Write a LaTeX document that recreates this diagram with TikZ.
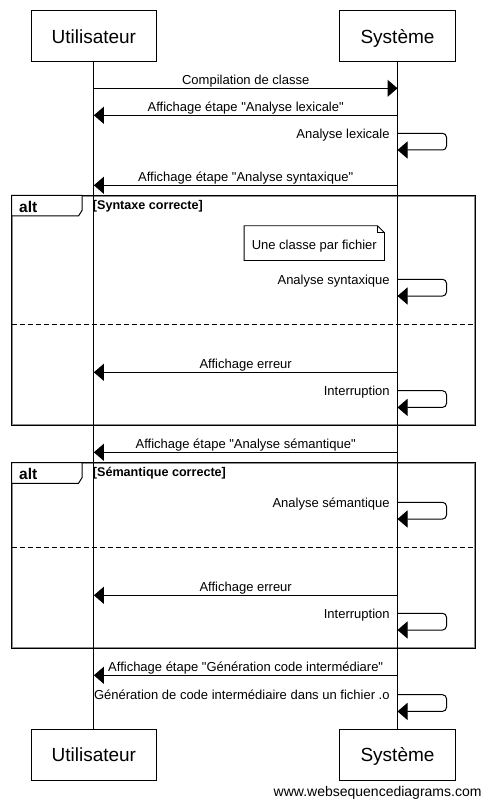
\documentclass[tikz,border=0pt]{standalone}
\usepackage{fontspec}
\setmainfont{Liberation Sans}[Ligatures=TeXOff]
\usetikzlibrary{arrows.meta}
\begin{document}
\begin{tikzpicture}[x=1pt,y=-1pt,
  actor/.style={draw,line width=1pt,minimum width=#1,minimum height=51pt,inner sep=0pt,
    text height=13.6pt,text depth=0pt,font=\fontsize{19}{22}\selectfont},
  life/.style={line width=1pt},
  msg/.style={line width=1pt,-{Triangle[length=10pt,width=17pt]}},
  selfmsg/.style={msg,rounded corners=4pt},
  lbl/.style={font=\fontsize{13}{15}\selectfont,inner sep=0pt},
  guardlbl/.style={font=\bfseries\fontsize{12.6}{14}\selectfont,inner sep=0pt,anchor=base west},
  altlbl/.style={font=\bfseries\fontsize{15.5}{18}\selectfont,inner sep=0pt,anchor=base west},
  frameout/.style={line width=1pt,black},
  framein/.style={line width=1pt,black!45},
  sep/.style={line width=1.5pt,dash pattern=on 5pt off 3pt},
  notebox/.style={line width=0.8pt}]
\useasboundingbox (0,0) rectangle (484,802);
\fill[white] (0,0) rectangle (484,802);

% actors
\node[actor=125.7pt] (uT) at (93.85,36.5) {Utilisateur};
\node[actor=116pt] (sT) at (397.5,36.5) {Système};
\node[actor=125.7pt] (uB) at (93.85,754.8) {Utilisateur};
\node[actor=116pt] (sB) at (397.5,754.8) {Système};
\draw[life] (uT) -- (uB);
\draw[life] (sT) -- (sB);

% frame 1
\draw[frameout] (11.7,195.5) rectangle (475,425.3);
\draw[framein] (12.7,196.5) rectangle (474,424.3);
\draw[frameout,fill=white] (11.7,195.5) -- (82,195.5) -- (82,210.5) -- (78.5,216) -- (11.7,216) -- cycle;
\node[altlbl] (alt1) at (19,212) {alt};
\node[guardlbl] (g1) at (92.7,209.5) {[Syntaxe correcte]};
\draw[sep] (11.7,324.3) -- (475,324.3);

% frame 2
\draw[frameout] (11.7,462.7) rectangle (475,648.7);
\draw[framein] (12.7,463.7) rectangle (474,647.7);
\draw[frameout,fill=white] (11.7,462.7) -- (82,462.7) -- (82,477.7) -- (78.5,483.3) -- (11.7,483.3) -- cycle;
\node[altlbl] (alt2) at (19,479.2) {alt};
\node[guardlbl] (g2) at (92.7,476.5) {[Sémantique correcte]};
\draw[sep] (11.7,547.3) -- (475,547.3);

% re-draw lifelines over frames
\draw[life] (uT) -- (uB);
\draw[life] (sT) -- (sB);

% messages
\coordinate (m1u) at (uT.south |- 0,88.3);
\coordinate (m1s) at (sT.south |- 0,88.3);
\draw[msg] (m1u) -- node[lbl,anchor=base,yshift=4pt] {Compilation de classe} (m1s);

\coordinate (m2u) at (uT.south |- 0,115.3);
\coordinate (m2s) at (sT.south |- 0,115.3);
\draw[msg] (m2s) -- node[lbl,anchor=base,yshift=4pt] {Affichage étape "Analyse lexicale"} (m2u);

\coordinate (s1a) at (sT.south |- 0,133.3);
\coordinate (s1b) at (sT.south |- 0,150);
\draw[selfmsg] (s1a) -- ++(49,0) -- ++(0,16.7) -- (s1b);
\node[lbl,anchor=base east] (t1) at ([xshift=-7.7pt,yshift=-5pt]s1a) {Analyse lexicale};

\coordinate (m3u) at (uT.south |- 0,185.3);
\coordinate (m3s) at (sT.south |- 0,185.3);
\draw[msg] (m3s) -- node[lbl,anchor=base,yshift=4pt] {Affichage étape "Analyse syntaxique"} (m3u);

% note
\node[minimum width=140pt,minimum height=34.3pt,inner sep=0pt] (note) at (314.3,243.15) {};
\draw[notebox,fill=white] (note.north west) -- ([xshift=-7pt]note.north east) -- ([yshift=-7pt]note.north east) -- (note.south east) -- (note.south west) -- cycle;
\draw[notebox] ([xshift=-7pt]note.north east) -- ([xshift=-7pt,yshift=-7pt]note.north east) -- ([yshift=-7pt]note.north east);
\node[lbl,anchor=base] (notetxt) at (314.3,249) {Une classe par fichier};

\coordinate (s2a) at (sT.south |- 0,279.3);
\coordinate (s2b) at (sT.south |- 0,296);
\draw[selfmsg] (s2a) -- ++(49,0) -- ++(0,16.7) -- (s2b);
\node[lbl,anchor=base east] (t2) at ([xshift=-7.7pt,yshift=-5pt]s2a) {Analyse syntaxique};

\coordinate (m4u) at (uT.south |- 0,372.3);
\coordinate (m4s) at (sT.south |- 0,372.3);
\draw[msg] (m4s) -- node[lbl,anchor=base,yshift=4pt] {Affichage erreur} (m4u);

\coordinate (s3a) at (sT.south |- 0,390.7);
\coordinate (s3b) at (sT.south |- 0,407.4);
\draw[selfmsg] (s3a) -- ++(49,0) -- ++(0,16.7) -- (s3b);
\node[lbl,anchor=base east] (t3) at ([xshift=-7.7pt,yshift=-5pt]s3a) {Interruption};

\coordinate (m5u) at (uT.south |- 0,452.3);
\coordinate (m5s) at (sT.south |- 0,452.3);
\draw[msg] (m5s) -- node[lbl,anchor=base,yshift=4pt] {Affichage étape "Analyse sémantique"} (m5u);

\coordinate (s4a) at (sT.south |- 0,502.3);
\coordinate (s4b) at (sT.south |- 0,519);
\draw[selfmsg] (s4a) -- ++(49,0) -- ++(0,16.7) -- (s4b);
\node[lbl,anchor=base east] (t4) at ([xshift=-7.7pt,yshift=-5pt]s4a) {Analyse sémantique};

\coordinate (m6u) at (uT.south |- 0,595.3);
\coordinate (m6s) at (sT.south |- 0,595.3);
\draw[msg] (m6s) -- node[lbl,anchor=base,yshift=4pt] {Affichage erreur} (m6u);

\coordinate (s5a) at (sT.south |- 0,613.3);
\coordinate (s5b) at (sT.south |- 0,630);
\draw[selfmsg] (s5a) -- ++(49,0) -- ++(0,16.7) -- (s5b);
\node[lbl,anchor=base east] (t5) at ([xshift=-7.7pt,yshift=-5pt]s5a) {Interruption};

\coordinate (m7u) at (uT.south |- 0,675.3);
\coordinate (m7s) at (sT.south |- 0,675.3);
\draw[msg] (m7s) -- node[lbl,anchor=base,yshift=4pt] {Affichage étape "Génération code intermédiare"} (m7u);

\coordinate (s6a) at (sT.south |- 0,694.7);
\coordinate (s6b) at (sT.south |- 0,711.4);
\draw[selfmsg] (s6a) -- ++(49,0) -- ++(0,16.7) -- (s6b);
\node[lbl,anchor=base east] (t6) at ([xshift=-7.7pt,yshift=-5pt]s6a) {Génération de code intermédiaire dans un fichier .o};

% watermark
\node[font=\fontsize{14}{16}\selectfont,inner sep=0pt,anchor=base east] (wm) at (481.7,796) {www.websequencediagrams.com};
\end{tikzpicture}
\end{document}
